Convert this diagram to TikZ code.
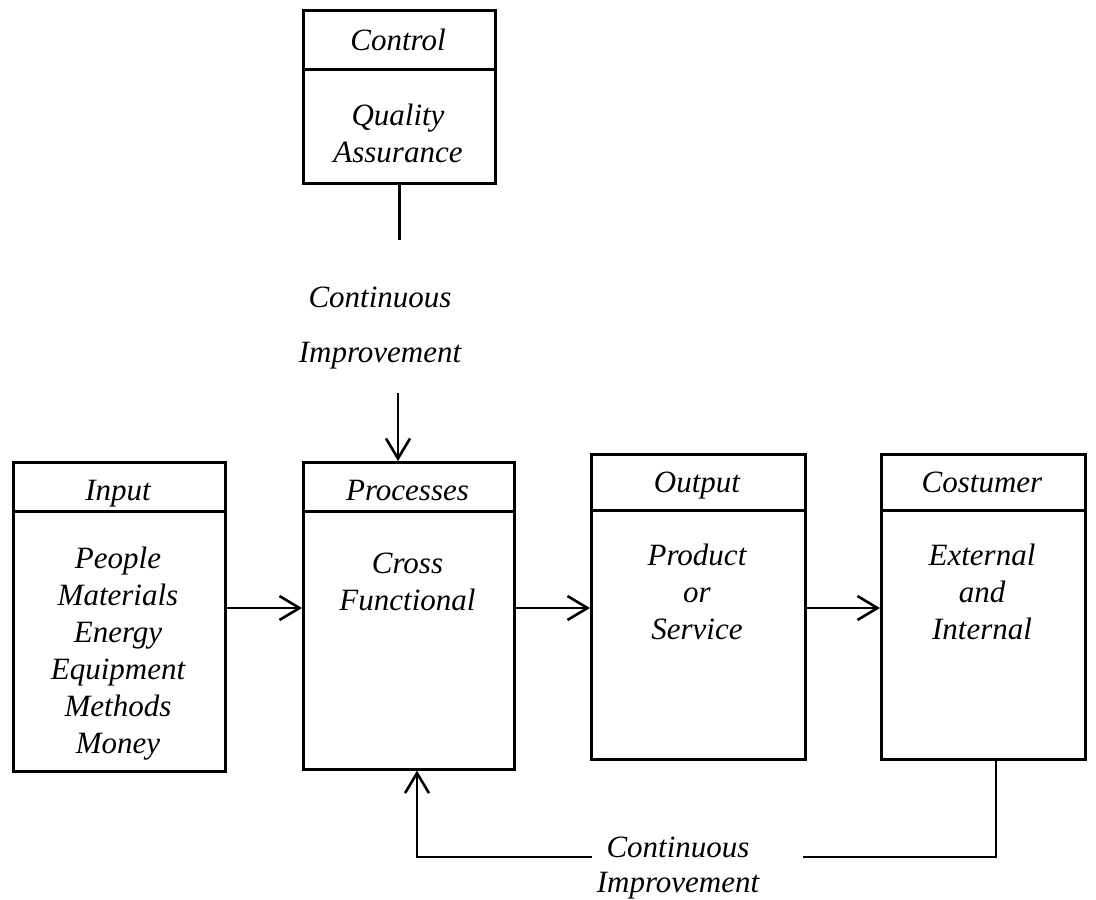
\documentclass[tikz,border=0pt]{standalone}
\usepackage{fontspec}
\setmainfont{Liberation Serif}
\usetikzlibrary{arrows.meta}
\begin{document}
\begin{tikzpicture}[x=1pt,y=-1pt,
  lw/.style={line width=2.6pt},
  boxpart/.style={draw, lw, rectangle, inner sep=0pt, anchor=north west},
  lbl/.style={font=\fontsize{31}{37}\selectfont\itshape, inner sep=0pt, anchor=base},
  body/.style={lbl, text width=210pt, align=center},
  arr/.style={lw, -{Straight Barb[length=20pt,width=24pt]}}
]
\useasboundingbox (0,0) rectangle (1096,900);

% boxes
\node[boxpart, minimum width=192pt, minimum height=59pt]  (ctrlh) at (302,9) {};
\node[boxpart, minimum width=192pt, minimum height=114pt] (ctrlb) at (302,68) {};
\node[boxpart, minimum width=212pt, minimum height=49pt]  (inh) at (12,461) {};
\node[boxpart, minimum width=212pt, minimum height=260pt] (inb) at (12,510) {};
\node[boxpart, minimum width=211pt, minimum height=49pt]  (prh) at (302,461) {};
\node[boxpart, minimum width=211pt, minimum height=258pt] (prb) at (302,510) {};
\node[boxpart, minimum width=214pt, minimum height=56pt]  (outh) at (590,453) {};
\node[boxpart, minimum width=214pt, minimum height=249pt] (outb) at (590,509) {};
\node[boxpart, minimum width=204pt, minimum height=56pt]  (cuh) at (880,453) {};
\node[boxpart, minimum width=204pt, minimum height=249pt] (cub) at (880,509) {};

% texts
\node[lbl]  (ctrlt) at (398,50) {Control};
\node[body] (qat)   at (398,125) {Quality\\Assurance};
\node[lbl]  (intx)  at (118,500) {Input};
\node[body] (inbt)  at (118,568) {People\\Materials\\Energy\\Equipment\\Methods\\Money};
\node[lbl]  (prt)   at (407.5,500) {Processes};
\node[body] (prbt)  at (407.5,573) {Cross\\Functional};
\node[lbl]  (outt)  at (697,492) {Output};
\node[body] (outbt) at (697,565) {Product\\or\\Service};
\node[lbl]  (cut)   at (982,492) {Costumer};
\node[body] (cubt)  at (982,565) {External\\and\\Internal};
\node[body, font=\fontsize{31}{55}\selectfont\itshape] (ci1) at (380,307) {Continuous\\Improvement};
\node[body, font=\fontsize{31}{35}\selectfont\itshape] (ci2) at (678,857) {Continuous\\Improvement};

% connectors
\coordinate (stem) at (398,240);
\draw[lw] (ctrlb.south) -- (ctrlb.south |- stem);
\coordinate (ciarr) at (398,393);
\draw[arr] (ciarr) -- (ciarr |- prh.north);
\coordinate (r1) at (0,608);
\draw[arr] (inb.east |- r1) -- (prb.west |- r1);
\draw[arr] (prb.east |- r1) -- (outb.west |- r1);
\draw[arr] (outb.east |- r1) -- (cub.west |- r1);
\coordinate (fbR) at (996,857);
\coordinate (fbL) at (417,857);
\coordinate (gapR) at (803,857);
\coordinate (gapL) at (592,857);
\draw[lw] (cub.south -| fbR) -- (fbR) -- (gapR);
\draw[arr] (gapL) -- (fbL) -- (fbL |- prb.south);
\end{tikzpicture}
\end{document}
